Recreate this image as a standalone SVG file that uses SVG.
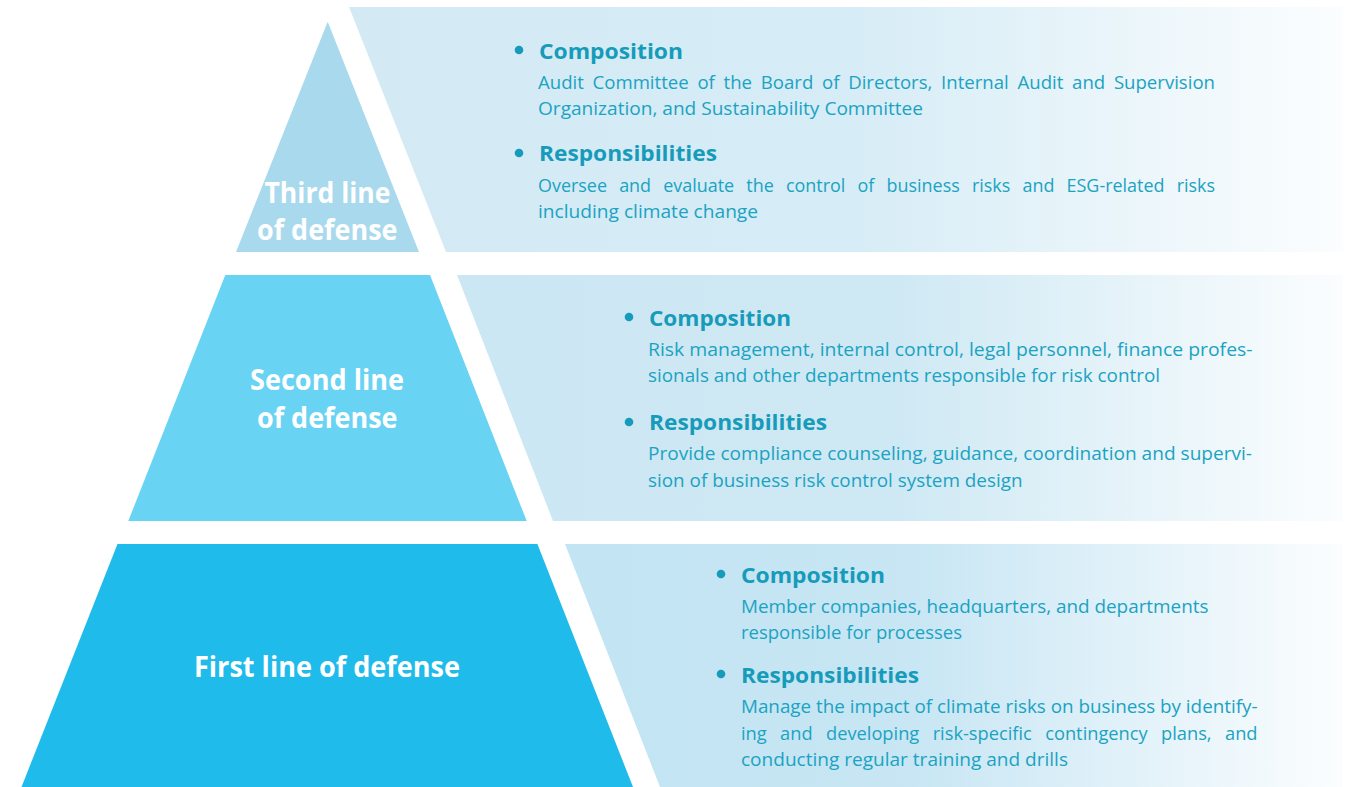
<svg xmlns="http://www.w3.org/2000/svg" width="1349" height="787" viewBox="0 0 1349 787">
  <defs>
    <linearGradient id="fadeThird" gradientUnits="userSpaceOnUse" x1="350" y1="0" x2="1343" y2="0">
      <stop offset="0" stop-color="#d3eaf5"/>
      <stop offset="0.5" stop-color="#d6ecf6"/>
      <stop offset="1" stop-color="#fbfdfe"/>
    </linearGradient>
    <linearGradient id="fadeSecond" gradientUnits="userSpaceOnUse" x1="457" y1="0" x2="1343" y2="0">
      <stop offset="0" stop-color="#cbe7f3"/>
      <stop offset="0.5" stop-color="#cfe9f4"/>
      <stop offset="1" stop-color="#fbfdfe"/>
    </linearGradient>
    <linearGradient id="fadeFirst" gradientUnits="userSpaceOnUse" x1="565" y1="0" x2="1343" y2="0">
      <stop offset="0" stop-color="#c2e4f3"/>
      <stop offset="0.45" stop-color="#c8e6f4"/>
      <stop offset="1" stop-color="#fbfdfe"/>
    </linearGradient>
    <style>
      .label { font-family: "Open Sans", "Noto Sans", sans-serif; font-weight: 700; font-size: 28px; fill: #ffffff; }
      .head { font-family: "Open Sans", "Noto Sans", sans-serif; font-weight: 700; font-size: 22px; fill: #169bba; }
      .body { font-family: "Open Sans", "Noto Sans", sans-serif; font-weight: 400; font-size: 19px; fill: #1aa3c2; }
      .dot { fill: #169bba; }
    </style>
  </defs>

  <rect width="1349" height="787" fill="#ffffff"/>

  <!-- Third line of defense: apex triangle and its description panel -->
  <g id="tier-third">
    <polygon points="349,7 1343,7 1343,252 446,252" fill="url(#fadeThird)"/>
    <polygon points="327.7,21.7 419,252 236,252" fill="#a9d9ec"/>
    <text class="label" x="264.5" y="203" textLength="126" lengthAdjust="spacingAndGlyphs">Third line</text>
    <text class="label" x="257" y="240" textLength="140.5" lengthAdjust="spacingAndGlyphs">of defense</text>

    <circle class="dot" cx="519" cy="50" r="4.3"/>
    <text class="head" x="539" y="59" textLength="144" lengthAdjust="spacingAndGlyphs">Composition</text>
    <text class="body" x="538" y="89" textLength="677" lengthAdjust="spacingAndGlyphs" word-spacing="4">Audit Committee of the Board of Directors, Internal Audit and Supervision</text>
    <text class="body" x="538" y="115" textLength="385" lengthAdjust="spacingAndGlyphs">Organization, and Sustainability Committee</text>

    <circle class="dot" cx="519" cy="153" r="4.3"/>
    <text class="head" x="539" y="161" textLength="178" lengthAdjust="spacingAndGlyphs">Responsibilities</text>
    <text class="body" x="538" y="192" textLength="677" lengthAdjust="spacingAndGlyphs" word-spacing="8">Oversee and evaluate the control of business risks and ESG-related risks</text>
    <text class="body" x="538" y="218" textLength="220" lengthAdjust="spacingAndGlyphs">including climate change</text>
  </g>

  <!-- Second line of defense: middle band -->
  <g id="tier-second">
    <polygon points="457,275 1343,275 1343,521 553,521" fill="url(#fadeSecond)"/>
    <polygon points="225.3,275 430,275 526.7,521 128.3,521" fill="#69d3f3"/>
    <text class="label" x="250" y="390" textLength="154" lengthAdjust="spacingAndGlyphs">Second line</text>
    <text class="label" x="257" y="428" textLength="140.5" lengthAdjust="spacingAndGlyphs">of defense</text>

    <circle class="dot" cx="629" cy="317" r="4.3"/>
    <text class="head" x="649" y="326" textLength="142" lengthAdjust="spacingAndGlyphs">Composition</text>
    <text class="body" x="648" y="356" textLength="604.5" lengthAdjust="spacingAndGlyphs">Risk management, internal control, legal personnel, finance profes-</text>
    <text class="body" x="648" y="382" textLength="512" lengthAdjust="spacingAndGlyphs">sionals and other departments responsible for risk control</text>

    <circle class="dot" cx="629" cy="422" r="4.3"/>
    <text class="head" x="649" y="430" textLength="178" lengthAdjust="spacingAndGlyphs">Responsibilities</text>
    <text class="body" x="648" y="460" textLength="604" lengthAdjust="spacingAndGlyphs">Provide compliance counseling, guidance, coordination and supervi-</text>
    <text class="body" x="648" y="487" textLength="374.5" lengthAdjust="spacingAndGlyphs">sion of business risk control system design</text>
  </g>

  <!-- First line of defense: base band -->
  <g id="tier-first">
    <polygon points="565,544 1343,544 1343,787 660,787" fill="url(#fadeFirst)"/>
    <polygon points="117.5,544 537.4,544 633,787 21.5,787" fill="#1fbbea"/>
    <text class="label" x="194" y="677" textLength="266" lengthAdjust="spacingAndGlyphs">First line of defense</text>

    <circle class="dot" cx="721" cy="574" r="4.3"/>
    <text class="head" x="741" y="583" textLength="144" lengthAdjust="spacingAndGlyphs">Composition</text>
    <text class="body" x="741" y="613" textLength="467.5" lengthAdjust="spacingAndGlyphs">Member companies, headquarters, and departments</text>
    <text class="body" x="741" y="639" textLength="221" lengthAdjust="spacingAndGlyphs">responsible for processes</text>

    <circle class="dot" cx="721" cy="674" r="4.3"/>
    <text class="head" x="741" y="683" textLength="178" lengthAdjust="spacingAndGlyphs">Responsibilities</text>
    <text class="body" x="741" y="713" textLength="516.5" lengthAdjust="spacingAndGlyphs">Manage the impact of climate risks on business by identify-</text>
    <text class="body" x="741" y="740" textLength="516.5" lengthAdjust="spacingAndGlyphs" word-spacing="9">ing and developing risk-specific contingency plans, and</text>
    <text class="body" x="741" y="766" textLength="327" lengthAdjust="spacingAndGlyphs">conducting regular training and drills</text>
  </g>
</svg>
